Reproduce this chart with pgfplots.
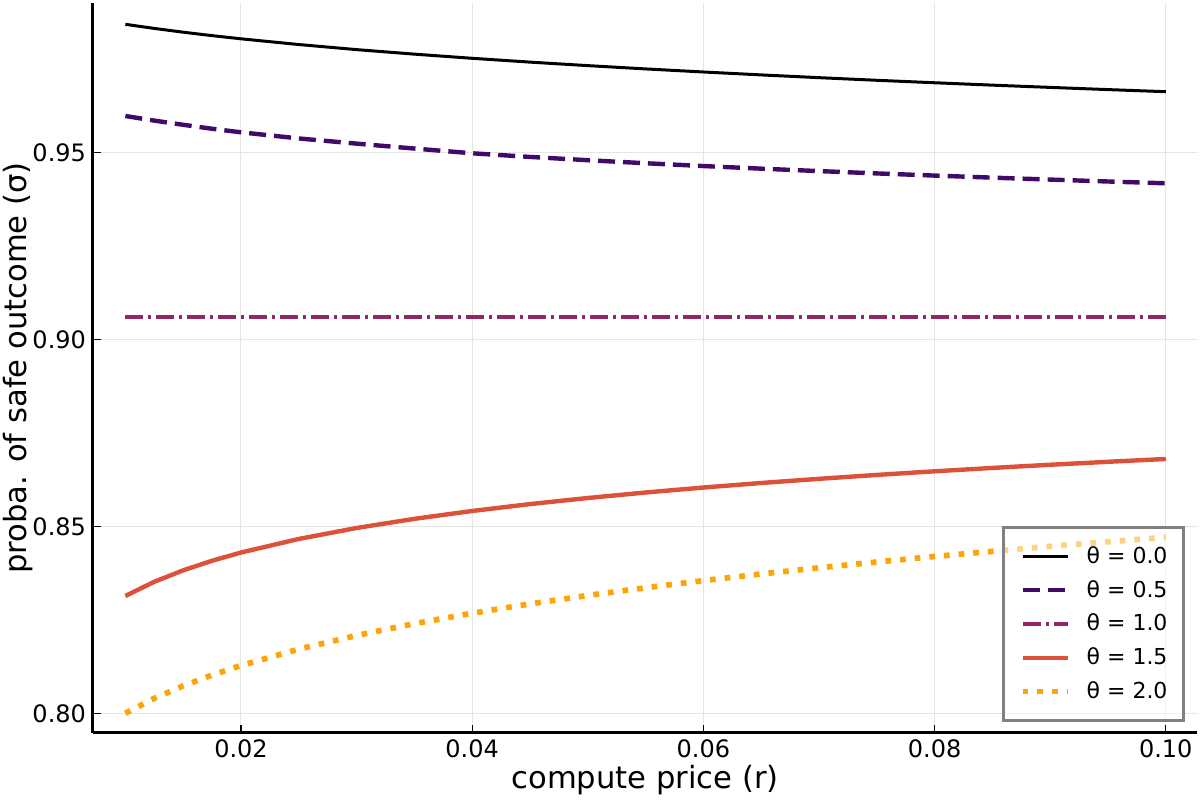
\documentclass[border=0pt]{standalone}
\usepackage{fontspec}
\setmainfont{DejaVu Sans}
\usepackage{pgfplots}
\pgfplotsset{compat=1.18}
\definecolor{thB}{HTML}{420A68}
\definecolor{thC}{HTML}{932667}
\definecolor{thD}{HTML}{DD513A}
\definecolor{thE}{HTML}{FCA50A}

\begin{document}
\begin{tikzpicture}
\begin{axis}[
    scale only axis,
    width=552pt, height=365pt,
    xmin=0.0072, xmax=0.1027,
    ymin=0.79473, ymax=0.98992,
    axis x line=bottom, axis y line=left,
    axis line style={-, line width=1.5pt, black},
    xtick={0.02,0.04,0.06,0.08,0.10},
    ytick={0.80,0.85,0.90,0.95},
    scaled x ticks=false, scaled y ticks=false,
    tick align=inside,
    major tick length=4pt,
    tick style={black, line width=0.6pt},
    grid=major,
    major grid style={line width=0.5pt, draw=black!10},
    ticklabel style={font=\fontsize{12}{14}\selectfont,
        /pgf/number format/fixed, /pgf/number format/fixed zerofill,
        /pgf/number format/precision=2, /pgf/number format/assume math mode=true},
    xlabel={compute price (r)},
    ylabel={proba. of safe outcome (σ)},
    label style={font=\fontsize{15.3}{18}\selectfont},
    xlabel style={at={(axis description cs:0.5,-0.0644)}, anchor=center},
    ylabel style={at={(axis description cs:-0.0679,0.5)}, anchor=center},
    legend style={at={(rel axis cs:0.98913,0.01507)}, anchor=south east,
        draw=gray, line width=1.5pt, fill=white, fill opacity=0.5,
        draw opacity=1, text opacity=1,
        font=\fontsize{11}{13}\selectfont,
        inner xsep=8pt, inner ysep=6pt, row sep=0pt,
        nodes={inner sep=0pt, minimum height=16.9pt},
        /tikz/every odd column/.append style={column sep=8pt}},
    legend cell align=left,
    legend image code/.code={\draw[#1] (0pt,0pt) -- (22.5pt,0pt);},
    every axis plot/.append style={line join=round},
]

% theta = 0.0
\addplot[black, line width=1.5pt] coordinates {
    (0.0100,0.98422) (0.0125,0.98312) (0.0150,0.98211) (0.0175,0.98119)
    (0.0200,0.98034) (0.0250,0.97881) (0.0300,0.97745) (0.0350,0.97624)
    (0.0400,0.97513) (0.0450,0.97411) (0.0500,0.97317) (0.0550,0.97229)
    (0.0600,0.97147) (0.0650,0.97069) (0.0700,0.96995) (0.0750,0.96925)
    (0.0800,0.96859) (0.0850,0.96795) (0.0900,0.96735) (0.0950,0.96676)
    (0.1000,0.96620)
};
\addlegendentry{θ = 0.0}

% theta = 0.5
\addplot[thB, line width=2.2pt, dash pattern=on 8.5pt off 4pt] coordinates {
    (0.0100,0.95970) (0.0125,0.95847) (0.0150,0.95735) (0.0175,0.95629)
    (0.0200,0.95534) (0.0250,0.95370) (0.0300,0.95231) (0.0350,0.95100)
    (0.0400,0.94973) (0.0450,0.94876) (0.0500,0.94788) (0.0550,0.94707)
    (0.0600,0.94632) (0.0650,0.94562) (0.0700,0.94497) (0.0750,0.94435)
    (0.0800,0.94377) (0.0850,0.94322) (0.0900,0.94270) (0.0950,0.94219)
    (0.1000,0.94171)
};
\addlegendentry{θ = 0.5}

% theta = 1.0
\addplot[thC, line width=2pt, dash pattern=on 9pt off 2.5pt on 1.5pt off 2.5pt] coordinates {
    (0.010,0.90596) (0.020,0.90596) (0.040,0.90596) (0.060,0.90596)
    (0.080,0.90596) (0.100,0.90596)
};
\addlegendentry{θ = 1.0}

% theta = 1.5
\addplot[thD, line width=2.2pt] coordinates {
    (0.0100,0.83136) (0.0125,0.83516) (0.0150,0.83822) (0.0175,0.84078)
    (0.0200,0.84298) (0.0250,0.84661) (0.0300,0.84954) (0.0350,0.85199)
    (0.0400,0.85409) (0.0450,0.85593) (0.0500,0.85756) (0.0550,0.85903)
    (0.0600,0.86036) (0.0650,0.86157) (0.0700,0.86269) (0.0750,0.86373)
    (0.0800,0.86470) (0.0850,0.86560) (0.0900,0.86645) (0.0950,0.86724)
    (0.1000,0.86800)
};
\addlegendentry{θ = 1.5}

% theta = 2.0
\addplot[thE, line width=2.85pt, dash pattern=on 2.85pt off 4.5pt] coordinates {
    (0.0100,0.80000) (0.0125,0.80398) (0.0150,0.80732) (0.0175,0.81022)
    (0.0200,0.81277) (0.0250,0.81713) (0.0300,0.82080) (0.0350,0.82396)
    (0.0400,0.82674) (0.0450,0.82924) (0.0500,0.83150) (0.0550,0.83356)
    (0.0600,0.83547) (0.0650,0.83725) (0.0700,0.83890) (0.0750,0.84045)
    (0.0800,0.84192) (0.0850,0.84330) (0.0900,0.84462) (0.0950,0.84587)
    (0.1000,0.84706)
};
\addlegendentry{θ = 2.0}

\end{axis}
\pgfresetboundingbox
\path[use as bounding box] ([shift={(-46.5pt,-33.5pt)}]current axis.south west)
    rectangle ([shift={(1.5pt,1.5pt)}]current axis.north east);
\end{tikzpicture}
\end{document}
